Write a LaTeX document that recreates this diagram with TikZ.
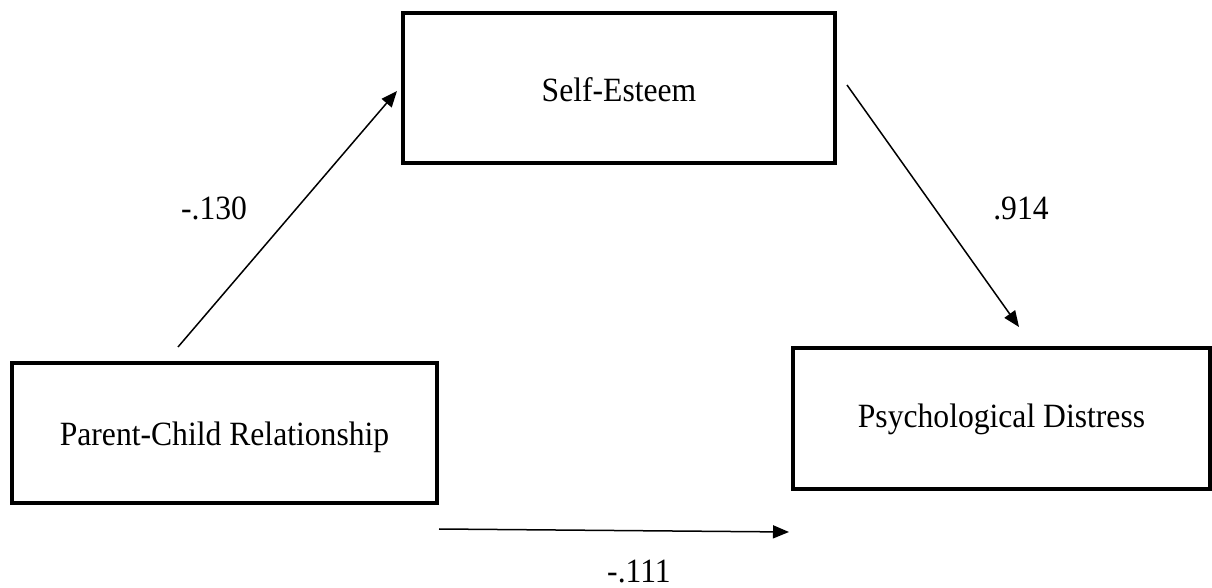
\documentclass[tikz,border=0pt]{standalone}
\usepackage{fontspec}
\setmainfont{Liberation Serif}[FakeStretch=0.93]
\usetikzlibrary{arrows.meta}
\begin{document}
\begin{tikzpicture}[x=0.5pt,y=-0.5pt,
  box/.style={draw=black,line width=2pt,fill=white,rectangle,inner sep=0pt,
    font=\fontsize{17}{20}\selectfont},
  conn/.style={draw=black,line width=0.75pt,-{Triangle[length=8pt,width=6.5pt]}},
  lbl/.style={font=\fontsize{17}{20}\selectfont,inner sep=0pt}]
\useasboundingbox[fill=white] (0,0) rectangle (1212,588);
\node[box,minimum width=216pt,minimum height=75pt,text height=13.7pt,text depth=0pt] (se) at (619,88) {Self-Esteem};
\node[box,minimum width=212.5pt,minimum height=70pt,text height=16.5pt,text depth=3.5pt] (pc) at (224.5,433) {Parent-Child Relationship};
\node[box,minimum width=208.5pt,minimum height=70.5pt,text height=13pt,text depth=3.5pt] (pd) at (1001.5,418.5) {Psychological Distress};
\coordinate (a1s) at (178,347);
\coordinate (a1e) at (397,91);
\coordinate (a2s) at (847,85);
\coordinate (a2e) at (1019,327);
\coordinate (a3s) at (439,529);
\coordinate (a3e) at (789,532);
\draw[conn] (a1s) -- (a1e);
\draw[conn] (a2s) -- (a2e);
\draw[conn] (a3s) -- (a3e);
\node[lbl] (l1) at (214,208) {-.130};
\node[lbl] (l2) at (1021,208) {.914};
\node[lbl] (l3) at (639,572) {-.111};
\end{tikzpicture}
\end{document}
